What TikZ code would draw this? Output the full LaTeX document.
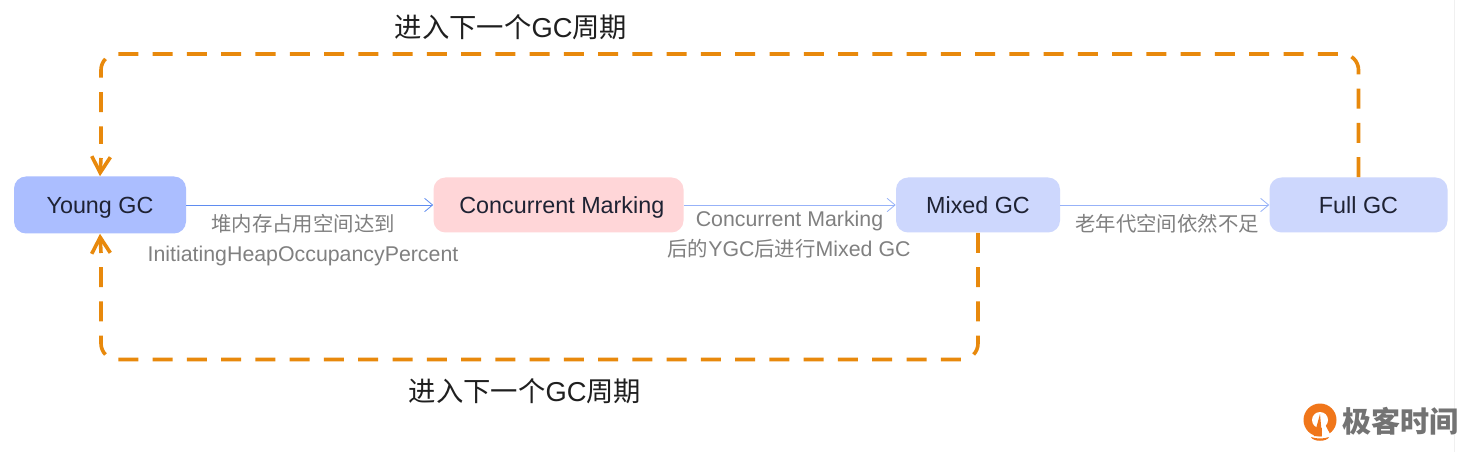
\documentclass[tikz,border=0pt]{standalone}
\usepackage{fontspec}
\setmainfont{Liberation Sans}
\newfontfamily\cjk{Noto Sans CJK SC}
\usetikzlibrary{arrows.meta}
\definecolor{og}{HTML}{E8890C}
\definecolor{logoc}{HTML}{F0761A}
\definecolor{yg}{HTML}{ABBEFF}
\definecolor{cm}{HTML}{FFD6D8}
\definecolor{mg}{HTML}{CDD7FD}
\definecolor{ln}{HTML}{5F8CF0}
\definecolor{lnb}{HTML}{97B2F8}
\definecolor{lbl}{HTML}{808080}
\definecolor{ink}{HTML}{1E2233}
\tikzset{
 x=0.75pt,y=-0.75pt,
 box/.style={rounded corners=9pt,inner sep=0pt,text=ink,font=\fontsize{17.5}{17.5}\selectfont,anchor=center,text height=14.5pt,text depth=2pt},
 flow/.style={line width=0.7pt,-{Straight Barb[length=6pt,width=10pt,line width=0.6pt]}},
 loopline/.style={draw=og,line width=2.7pt,dash pattern=on 15pt off 10.7pt,rounded corners=12pt},
 looptip/.style={draw=og,line width=2.7pt,-{Straight Barb[length=12pt,width=14pt,line width=2.7pt]}},
 lab/.style={text=lbl,font=\fontsize{16}{16}\selectfont,inner sep=0pt},
 title/.style={text=black!88,font=\fontsize{20.5}{20.5}\selectfont,inner sep=0pt},
}
\newcommand{\cjklab}{\cjk\fontsize{15.3}{15.3}\selectfont}
\begin{document}
\begin{tikzpicture}
\useasboundingbox (0,0) rectangle (1466,452);
\fill[white] (0,0) rectangle (1466,452);
\draw[draw=black!6,line width=0.7pt] (1454,0) -- (1454,452);
\node[box,fill=yg,minimum width=129pt,minimum height=42.75pt] (young) at (100,205) {Young GC};
\node[box,fill=cm,minimum width=187.5pt,minimum height=41.25pt] (conc) at (558.5,205) {\hspace{5pt}Concurrent Marking};
\node[box,fill=mg,minimum width=123pt,minimum height=41.25pt] (mixed) at (978,205) {Mixed GC};
\node[box,fill=mg,minimum width=133.5pt,minimum height=41.25pt] (full) at (1358.5,205) {Full GC};
\draw[flow,draw=ln] (young) -- (conc);
\draw[flow,draw=lnb] (conc) -- (mixed);
\draw[flow,draw=lnb] (mixed) -- (full);
\node[lab] (l1) at (303,224) {\cjklab 堆内存占用空间达到};
\node[lab] (l2) at (303,255.5) {InitiatingHeapOccupancyPercent};
\node[lab] (l3) at (789.5,220.5) {Concurrent Marking};
\node[lab] (l4) at (789,249) {{\cjklab 后的}YGC{\cjklab 后进行}Mixed GC};
\node[lab] (l5) at (1167,224) {\cjklab 老年代空间依然不足};
\node[title] (t1) at (511,27) {{\cjk 进入下一个}GC{\cjk 周期}};
\node[title] (t2) at (525,391) {{\cjk 进入下一个}GC{\cjk 周期}};
\coordinate (tr) at (1358.5,54);
\coordinate (tl) at (101,54);
\coordinate (bl) at (101,359.5);
\coordinate (br) at (978,359.5);
\coordinate (yt) at (101,144);
\coordinate (yb) at (101,265);
\coordinate (ya) at (101,158);
\coordinate (yc) at (101,253);
\draw[loopline] (full.north) -- (tr) -- (tl) -- (yt);
\draw[looptip] (ya) -- (young.north);
\draw[loopline] (mixed.south) -- (br) -- (bl) -- (yb);
\draw[looptip] (yc) -- (young.south);
% logo
\fill[logoc] (1320,420) circle[radius=16.5];
\fill[white] (1320,420) circle[radius=8];
\fill[logoc] (1320,414) -- (1314,436) -- (1322,436) -- cycle;
\fill[white] (1322,419) -- (1331,436) -- (1322,438) -- cycle;
\fill[logoc] (1311,437) .. controls (1316,439) and (1324,439) .. (1329,437) .. controls (1327,442) and (1313,442) .. (1311,437) -- cycle;
\node[text=black!55,font=\cjk\bfseries\fontsize{21.8}{21.8}\selectfont,inner sep=0pt] (logo) at (1400.5,421) {极客时间};
\end{tikzpicture}
\end{document}
